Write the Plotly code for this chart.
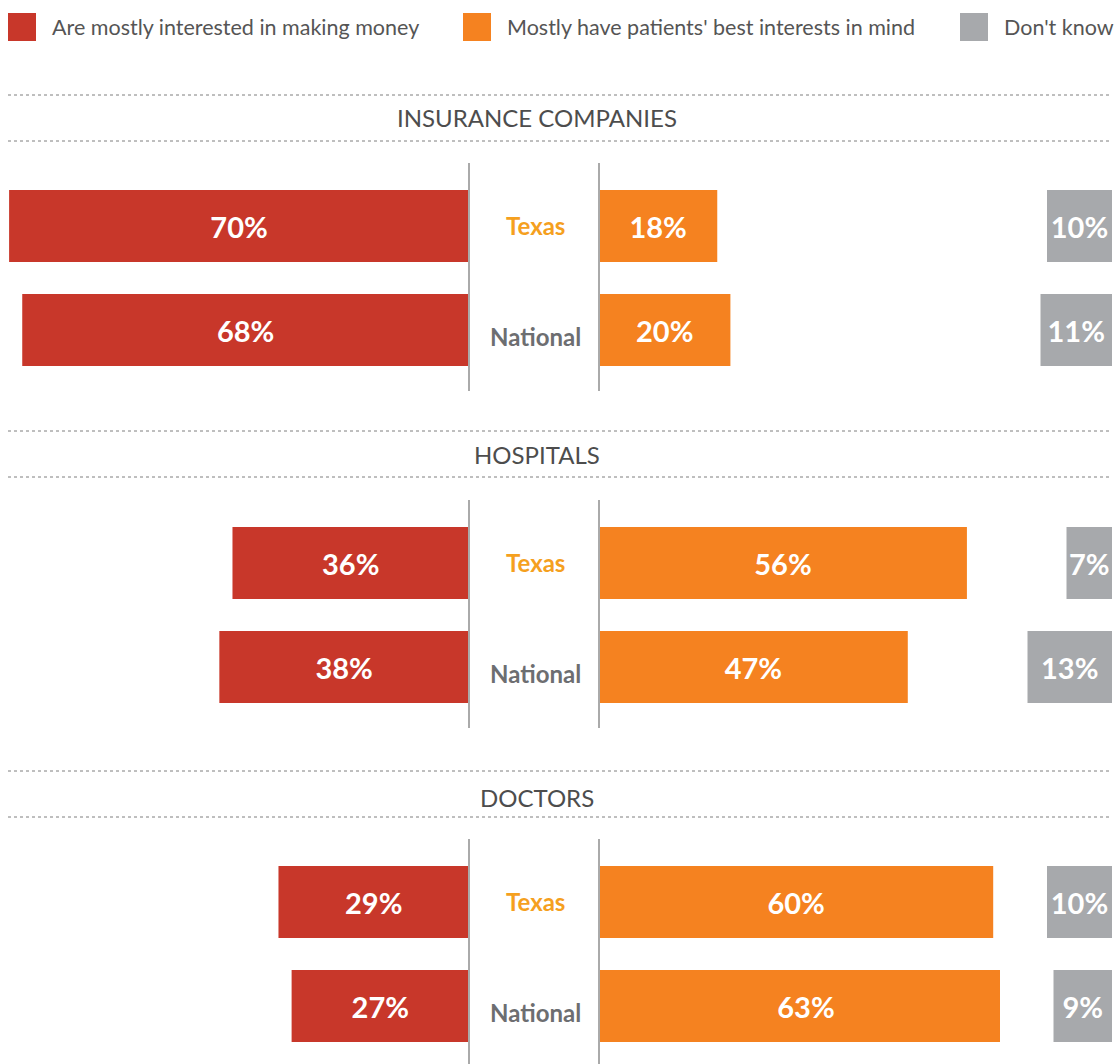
import plotly.graph_objects as go

W, H = 1117, 1064

# ---- data ----
panels = ["INSURANCE COMPANIES", "HOSPITALS", "DOCTORS"]
groups = ["Texas", "National"]
series_names = ["Are mostly interested in making money",
                "Mostly have patients' best interests in mind",
                "Don't know"]
money = [[70, 68], [36, 38], [29, 27]]
patients = [[18, 20], [56, 47], [60, 63]]
dont_know = [[10, 11], [7, 13], [10, 9]]

# ---- styles ----
RED, ORANGE, GREY = "#C8372A", "#F58220", "#A7A9AC"
FONT = "Lato"
TEXAS_C, NAT_C, TITLE_C = "#F5A01E", "#6D6E71", "#4D4D4D"

def px(p):
    return p / W

def py(p):
    return 1 - p / H

centres = [(226, 330), (563, 667), (902, 1006)]
title_y = [117, 454, 797]
dot_lines = [(95, 141), (431, 477), (771, 817)]
scale = 6.57  # px per percent
red_l, red_r = 8, 469
or_l, or_r = 599, 1112
gr_l, gr_r = 1000, 1112

fig = go.Figure()
layout = dict(
    width=W, height=H, margin=dict(l=0, r=0, t=0, b=0),
    paper_bgcolor="white", plot_bgcolor="white", showlegend=False,
    font=dict(family=FONT),
)
layout["xaxis"] = dict(domain=[px(red_l), px(red_r)], range=[(red_r - red_l) / scale, 0],
                       visible=False, fixedrange=True)
layout["xaxis2"] = dict(domain=[px(or_l), px(or_r)], range=[0, (or_r - or_l) / scale],
                        visible=False, fixedrange=True)
layout["xaxis3"] = dict(domain=[px(gr_l), px(gr_r)], range=[(gr_r - gr_l) / 6.5, 0],
                        visible=False, fixedrange=True)

shapes, annotations = [], []
for i, name in enumerate(panels):
    yk = "yaxis" if i == 0 else f"yaxis{i+1}"
    yr = "y" if i == 0 else f"y{i+1}"
    c1, c2 = centres[i]
    unit = c2 - c1
    top = c1 - unit / 2
    bot = c2 + unit / 2
    layout[yk] = dict(domain=[py(bot), py(top)], type="category",
                      categoryorder="array", categoryarray=groups,
                      range=[1.5, -0.5], visible=False, fixedrange=True)
    for vals, xa, col in [(money[i], "x", RED), (patients[i], "x2", ORANGE),
                          (dont_know[i], "x3", GREY)]:
        fig.add_trace(go.Bar(
            x=vals, y=groups, orientation="h", xaxis=xa, yaxis=yr,
            marker=dict(color=col, line=dict(width=0)), width=72 / unit,
            text=[f"{v}%" for v in vals], textposition="inside", textangle=0,
            insidetextanchor="middle", constraintext="none",
            textfont=dict(color="white", size=29, family=FONT, weight="bold"),
            hoverinfo="skip", cliponaxis=False,
        ))
    for yy in dot_lines[i]:
        shapes.append(dict(type="line", xref="paper", yref="paper",
                           x0=px(8), x1=px(1112), y0=py(yy), y1=py(yy),
                           line=dict(color="#7F7F7F", width=1, dash="dot")))
    for xx in (469, 599):
        shapes.append(dict(type="line", xref="paper", yref="paper",
                           x0=px(xx), x1=px(xx), y0=py(c1 - 63), y1=py(c2 + 61),
                           line=dict(color="#AAAAAA", width=2)))
    annotations.append(dict(text=name, xref="paper", yref="paper",
                            x=px(537), y=py(title_y[i]), showarrow=False,
                            xanchor="center", yanchor="middle",
                            font=dict(size=24, color=TITLE_C, family=FONT)))
    annotations.append(dict(text=groups[0], xref="paper", yref=yr,
                            x=px(535), y=groups[0], showarrow=False,
                            xanchor="center", yanchor="middle", yshift=1,
                            font=dict(size=24, color=TEXAS_C, family=FONT, weight="bold")))
    annotations.append(dict(text=groups[1], xref="paper", yref=yr,
                            x=px(535), y=groups[1], showarrow=False,
                            xanchor="center", yanchor="middle", yshift=-6,
                            font=dict(size=24, color=NAT_C, family=FONT, weight="bold")))

leg_x = [8, 463, 960]
for lx, col, name in zip(leg_x, [RED, ORANGE, GREY], series_names):
    shapes.append(dict(type="rect", xref="paper", yref="paper",
                       x0=px(lx), x1=px(lx + 28), y0=py(41), y1=py(13),
                       fillcolor=col, line=dict(width=0)))
    annotations.append(dict(text=name, xref="paper", yref="paper",
                            x=px(lx + 42), y=py(27), showarrow=False,
                            xanchor="left", yanchor="middle",
                            font=dict(size=21.5, color="#555555", family=FONT)))

layout["shapes"] = shapes
layout["annotations"] = annotations
fig.update_layout(**layout)
fig.write_html("out.html", config={"displayModeBar": False},
               post_script="document.body.style.margin='0';")
